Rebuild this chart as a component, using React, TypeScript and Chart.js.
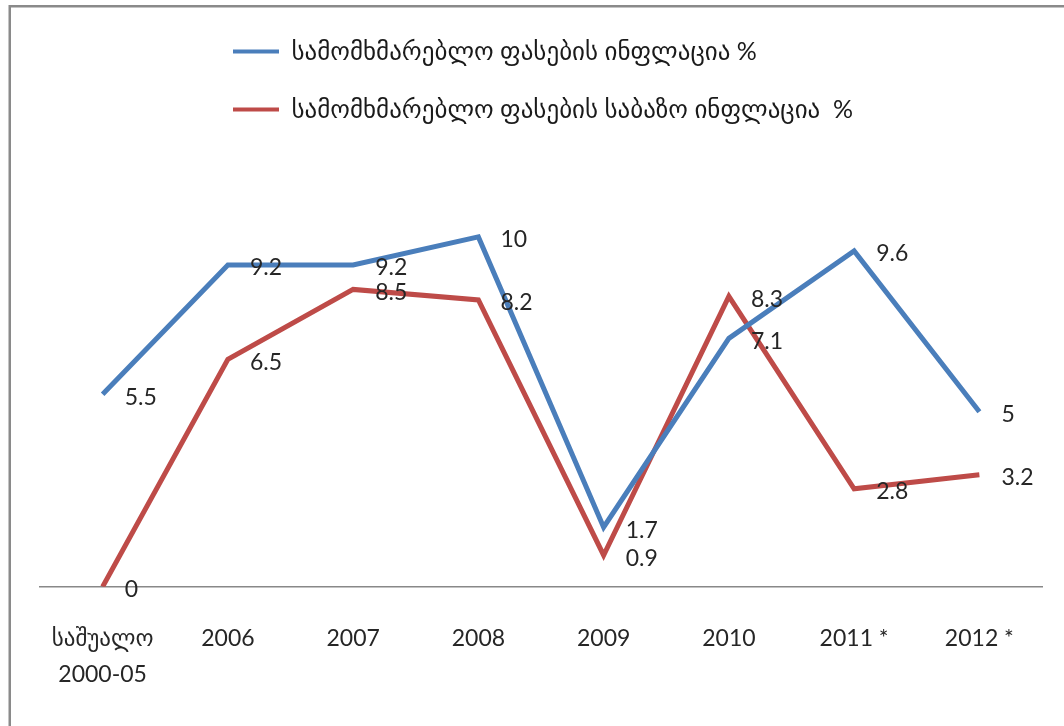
import React, { useEffect, useRef } from "react";
import { Chart, registerables } from "chart.js";

Chart.register(...registerables);

// ---- data ----
const categories: (string | string[])[] = [
  ["საშუალო", "2000-05"],
  "2006",
  "2007",
  "2008",
  "2009",
  "2010",
  "2011 *",
  "2012 *",
];
const headlineInflation = [5.5, 9.2, 9.2, 10, 1.7, 7.1, 9.6, 5];
const coreInflation = [0, 6.5, 8.5, 8.2, 0.9, 8.3, 2.8, 3.2];
const seriesNames = [
  "სამომხმარებლო ფასების ინფლაცია %",
  "სამომხმარებლო ფასების საბაზო ინფლაცია  %",
];
const seriesColors = ["#4A7EBB", "#BE4B48"];
const yMin = 0;
const yMax = 13;

const FONT = "Lato, 'DejaVu Sans', sans-serif";

const frameAndBackground = {
  id: "frameAndBackground",
  beforeDraw(chart: any) {
    const { ctx, width, height } = chart;
    ctx.save();
    ctx.fillStyle = "#ffffff";
    ctx.fillRect(0, 0, width, height);
    ctx.strokeStyle = "#8a8a8a";
    ctx.lineWidth = 2.5;
    ctx.strokeRect(9.75, 6.25, width + 40, height + 40);
    ctx.restore();
  },
};

const legendPlacement = {
  id: "legendPlacement",
  afterLayout(chart: any) {
    if (chart.legend) {
      chart.legend.left = 200;
    }
  },
};

const valueLabels = {
  id: "valueLabels",
  afterDatasetsDraw(chart: any) {
    const { ctx } = chart;
    ctx.save();
    ctx.font = `23px ${FONT}`;
    ctx.fillStyle = "#262626";
    ctx.textAlign = "left";
    ctx.textBaseline = "middle";
    chart.data.datasets.forEach((ds: any, i: number) => {
      const meta = chart.getDatasetMeta(i);
      meta.data.forEach((pt: any, j: number) => {
        ctx.fillText(String(ds.data[j]), pt.x + 22, pt.y + 3);
      });
    });
    ctx.restore();
  },
};

export default function App() {
  const canvasRef = useRef<HTMLCanvasElement | null>(null);

  useEffect(() => {
    if (!canvasRef.current) return;
    const chart = new Chart(canvasRef.current, {
      type: "line",
      data: {
        labels: categories,
        datasets: [
          {
            label: seriesNames[0],
            data: headlineInflation,
            borderColor: seriesColors[0],
            backgroundColor: seriesColors[0],
            borderWidth: 5,
            pointRadius: 0,
            tension: 0,
            fill: false,
          },
          {
            label: seriesNames[1],
            data: coreInflation,
            borderColor: seriesColors[1],
            backgroundColor: seriesColors[1],
            borderWidth: 5,
            pointRadius: 0,
            tension: 0,
            fill: false,
          },
        ],
      },
      options: {
        responsive: false,
        animation: false,
        devicePixelRatio: 1,
        layout: { padding: { top: 6, left: 40, right: 22, bottom: 0 } },
        plugins: {
          tooltip: { enabled: false },
          legend: {
            display: true,
            position: "top",
            align: "start",
            labels: {
              font: { family: FONT, size: 25 },
              color: "#1a1a1a",
              boxWidth: 46,
              boxHeight: 4,
              padding: 33,
              generateLabels: (chart: any) =>
                Chart.defaults.plugins.legend.labels
                  .generateLabels(chart)
                  .map((l: any) => ({ ...l, fillStyle: l.strokeStyle, lineWidth: 0 })),
            },
          },
        },
        scales: {
          x: {
            type: "category",
            offset: true,
            grid: { display: true, drawOnChartArea: false, drawTicks: false },
            border: { display: true, color: "#888888", width: 1.5 },
            ticks: {
              autoSkip: false,
              maxRotation: 0,
              padding: 34,
              color: "#262626",
              font: { family: FONT, size: 23, lineHeight: 1.55 },
            },
          },
          y: {
            display: false,
            min: yMin,
            max: yMax,
          },
        },
      },
      plugins: [frameAndBackground, legendPlacement, valueLabels],
    });
    return () => chart.destroy();
  }, []);

  return (
    <div style={{ position: "absolute", left: 0, top: 0, width: 1064, height: 726 }}>
      <canvas ref={canvasRef} width={1064} height={726} />
    </div>
  );
}
